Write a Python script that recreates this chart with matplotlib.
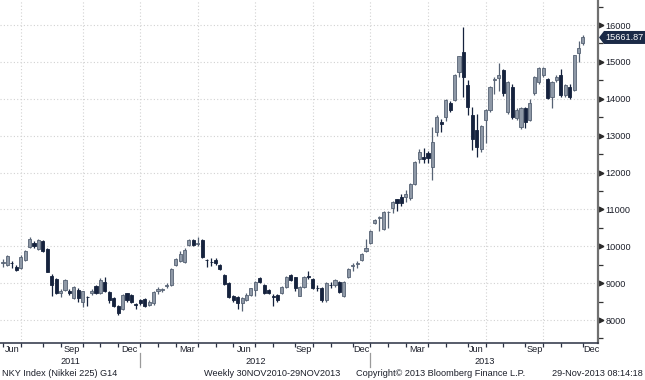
import math

import matplotlib
matplotlib.use("Agg")
import matplotlib.pyplot as plt
from matplotlib.patches import Polygon
import pandas as pd

plt.rcParams['font.family'] = ['Liberation Sans', 'DejaVu Sans']

# weekly bars, first one is the week ending Fri 27-May-2011
FIRST_WEEK = "2011-05-27"

opens = [
    # 2011
    9540, 9490, 9550, 9450, 9410, 9630, 9980, 10100, 9920, 10150, 9925, 9200, 9100, 8730, 8810, 8790,
    8600, 8820, 8490, 8630, 8740, 8910, 8730, 9030, 8750, 8600, 8380, 8290, 8720, 8680, 8430, 8540,
    # 2012
    8560, 8400, 8450, 8780, 8820, 8920, 8950, 9490, 9600, 9560, 10035, 10170, 10060, 10170, 9640, 9570,
    9630, 9500, 9220, 9010, 8650, 8630, 8450, 8540, 8680, 8810, 9140, 8950, 8820, 8640, 8680, 8740,
    8900, 9220, 9160, 8650, 8900, 9200, 9110, 8880, 8870, 8530, 8960, 8950, 9040, 8650, 9160, 9470,
    9530, 9630, 9860, 10080,
    # 2013
    10640, 10770, 10460, 10930, 11030, 11270, 11340, 11340, 11300, 11690, 12380, 12420, 12520, 12160,
    13110, 13380, 13510, 13880, 13970, 14730, 15260, 14370, 13560, 13150, 12630, 13420, 13700, 14510,
    14550, 14780, 13650, 14330, 13470, 13240, 13740, 13420, 14150, 14460, 14650, 14530, 14060, 14510,
    14640, 14100, 14330, 14240, 15230, 15520,
]
highs = [
    9650, 9760, 9610, 9480, 9760, 9900, 10240, 10150, 10200, 10170, 9950, 9250, 9130, 8850, 9120, 8830,
    8920, 8860, 8800, 8660, 8830, 8950, 9150, 9160, 8790, 8620, 8400, 8700, 8740, 8700, 8470, 8570,
    8600, 8550, 8800, 8900, 8870, 9010, 9400, 9670, 9860, 9940, 10190, 10190, 10240, 10190, 9660, 9680,
    9680, 9520, 9240, 9030, 8680, 8650, 8620, 8720, 8880, 9060, 9160, 8980, 8850, 8700, 8700, 8920,
    9200, 9240, 9180, 8920, 9200, 9320, 9130, 8950, 8890, 9040, 9040, 9100, 9060, 9060, 9410, 9550,
    9600, 9830, 10190, 10440,
    10740, 10830, 10960, 10960, 11230, 11290, 11410, 11530, 11710, 12310, 12650, 12670, 12580, 13225,
    13560, 13450, 13990, 13950, 14660, 15170, 15942, 14510, 13790, 13600, 13300, 13720, 14350, 14600,
    14960, 14800, 14480, 14400, 13750, 13790, 13780, 14000, 14620, 14850, 14850, 14560, 14480, 14650,
    14800, 14400, 14400, 15200, 15560, 15730,
]
lows = [
    9440, 9470, 9410, 9330, 9380, 9600, 9950, 9960, 9900, 9840, 9290, 8650, 8700, 8620, 8780, 8690,
    8570, 8500, 8350, 8370, 8680, 8700, 8700, 8750, 8460, 8340, 8140, 8270, 8500, 8470, 8290, 8420,
    8350, 8370, 8420, 8700, 8770, 8880, 8930, 9460, 9570, 9540, 10000, 10000, 10000, 9680, 9440, 9470,
    9500, 9360, 8940, 8600, 8500, 8290, 8240, 8520, 8650, 8650, 9000, 8700, 8700, 8370, 8500, 8700,
    8880, 9050, 8800, 8640, 8880, 9120, 8840, 8790, 8500, 8500, 8870, 8890, 8740, 8620, 9150, 9330,
    9400, 9600, 9850, 10060,
    10600, 10420, 10440, 10490, 10900, 10950, 11100, 11210, 11250, 11650, 12250, 12250, 12250, 11805,
    13000, 13100, 13400, 13650, 13950, 14600, 14050, 13560, 12610, 12430, 12560, 12790, 13650, 14130,
    14220, 14080, 13600, 13450, 13420, 13190, 13200, 13400, 14100, 14400, 14600, 13990, 13750, 14450,
    14050, 14050, 14000, 14200, 15000, 15450,
]
closes = [
    9560, 9740, 9540, 9360, 9710, 9880, 10200, 10010, 10170, 9880, 9310, 8960, 8740, 8800, 9080, 8720,
    8900, 8600, 8780, 8620, 8800, 8740, 9075, 8790, 8540, 8380, 8200, 8680, 8540, 8490, 8420, 8470,
    8390, 8500, 8770, 8840, 8830, 8950, 9380, 9650, 9780, 9900, 10170, 10035, 10080, 9710, 9630, 9560,
    9540, 9380, 8970, 8630, 8540, 8470, 8590, 8680, 8860, 9040, 9040, 8740, 8740, 8620, 8540, 8900,
    9180, 9090, 8870, 8900, 9180, 9180, 8870, 8870, 8540, 9010, 8950, 9080, 8770, 9040, 9380, 9490,
    9540, 9790, 9950, 10420,
    10710, 10800, 10940, 10940, 11210, 11160, 11170, 11420, 11680, 12290, 12560, 12380, 12400, 12840,
    13510, 13320, 13970, 13700, 14640, 15160, 14600, 13790, 12900, 12680, 13260, 13700, 14330, 14530,
    14640, 14150, 14460, 13510, 13700, 13740, 13380, 13880, 14600, 14830, 14830, 14010, 14460, 14600,
    14100, 14370, 14060, 15190, 15370, 15661.87,
]

y_major = list(range(8000, 16001, 1000))
y_minor = list(range(7500, 16501, 1000))
label_months = [6, 9, 12, 3]
grid_months = [1, 4, 7, 10]

footer_left = "NKY Index (Nikkei 225) G14"
footer_mid = "Weekly 30NOV2010-29NOV2013"
footer_copy = "Copyright\u00a9 2013 Bloomberg Finance L.P."
footer_right = "29-Nov-2013 08:14:18"

UP_FACE = "#8e98a6"
UP_EDGE = "#566274"
DOWN = "#15223d"
TEXT = "#1c1f2a"
GRID = "#d2d2d2"

W, H = 645, 380


def bar_pos(ts, d0):
    # bar index where a month boundary falls (bars are dated on Fridays)
    return math.ceil((ts - d0).days / 7) - 1


def main():
    fig = plt.figure(figsize=(W / 100, H / 100), dpi=100)
    ax = fig.add_axes([0, 37 / H, 598 / W, 343 / H])

    n = len(closes)
    xs = list(range(n))
    x0, x1 = -0.68, 134.4
    ax.set_xlim(x0, x1)
    ax.set_ylim(7377, 16678)

    # candles
    ups = [c >= o for o, c in zip(opens, closes)]
    edges = [UP_EDGE if u else DOWN for u in ups]
    faces = [UP_FACE if u else DOWN for u in ups]
    ax.vlines(xs, lows, highs, colors=edges, linewidth=0.9, zorder=3)
    bottoms = [min(o, c) for o, c in zip(opens, closes)]
    heights = [abs(c - o) for o, c in zip(opens, closes)]
    ax.bar(xs, heights, bottom=bottoms, width=0.7, color=faces, edgecolor=edges,
           linewidth=0.6, zorder=4)

    # y axis on the right
    ax.yaxis.tick_right()
    ax.set_yticks(y_major)
    ax.set_yticklabels([str(v) for v in y_major])
    ax.set_yticks(y_minor, minor=True)
    ax.tick_params(axis='y', which='major', length=0, pad=5.5, labelsize=6.6, labelcolor=TEXT)
    ax.tick_params(axis='y', which='minor', length=3.5, width=0.9, color="#333333", direction='out')
    ytr = ax.get_yaxis_transform()
    ax.plot([1.005] * len(y_major), y_major, linestyle='none', marker='>', markersize=3.4,
            color="#2b2b2b", transform=ytr, clip_on=False)
    for v in y_major:
        ax.axhline(v, color=GRID, lw=0.8, ls=(0, (1, 2)), zorder=1)

    for side in ("left", "top"):
        ax.spines[side].set_visible(False)
    ax.spines["right"].set_color("#707070")
    ax.spines["right"].set_linewidth(1.6)
    ax.spines["bottom"].set_color("#2a3042")
    ax.spines["bottom"].set_linewidth(1.1)

    # month ticks, quarter gridlines, labels
    d0 = pd.Timestamp(FIRST_WEEK)
    months = pd.date_range("2011-06-01", "2014-01-01", freq="MS")
    pos = [bar_pos(m, d0) for m in months]
    ax.set_xticks([p for p in pos if x0 <= p <= x1])
    ax.set_xticklabels([])
    ax.tick_params(axis='x', which='major', length=3, width=0.9, color="#2a3042", direction='out')

    xtr = ax.get_xaxis_transform()
    for k, m in enumerate(months[:-1]):
        if m.month in grid_months:
            ax.axvline(pos[k], color=GRID, lw=0.8, ls=(0, (1, 2)), zorder=1)
        if m.month in label_months:
            xc = (pos[k] + pos[k + 1]) / 2
            ax.text(xc, -7 / 343, m.strftime("%b"), transform=xtr, ha='center', va='center',
                    fontsize=6.6, color=TEXT)

    jan = [pos[k] for k, m in enumerate(months) if m.month == 1]
    spans = [(x0, jan[0]), (jan[0], jan[1]), (jan[1], x1)]
    for yr, (a, b) in zip(["2011", "2012", "2013"], spans):
        ax.text((a + b) / 2, -19 / 343, yr, transform=xtr, ha='center', va='center',
                fontsize=6.6, color=TEXT)
    for p in jan[:2]:
        ax.plot([p, p], [-10 / 343, -24 / 343], color="#9a9a9a", lw=0.9,
                transform=xtr, clip_on=False)

    # last price tag
    fig.canvas.draw()
    yd = ax.transData.transform((0, closes[-1]))[1]
    yc = yd / fig.bbox.height
    hh = 6.5 / H
    pts = [(599 / W, yc), (604 / W, yc + hh), (1.0, yc + hh), (1.0, yc - hh), (604 / W, yc - hh)]
    fig.add_artist(Polygon(pts, closed=True, transform=fig.transFigure,
                           facecolor="#1b2a47", edgecolor="none"))
    fig.text(624 / W, yc, f"{closes[-1]:.2f}", color="white", ha='center', va='center',
             fontsize=6.6)

    # footer
    fy = 1 - 373 / H
    fig.text(2 / W, fy, footer_left, ha='left', va='center', fontsize=6.6, color=TEXT)
    fig.text(204 / W, fy, footer_mid, ha='left', va='center', fontsize=6.6, color=TEXT)
    fig.text(356 / W, fy, footer_copy, ha='left', va='center', fontsize=6.6, color=TEXT)
    fig.text(643 / W, fy, footer_right, ha='right', va='center', fontsize=6.6, color=TEXT)

    fig.savefig("out.png", dpi=100, facecolor="white")
    plt.close(fig)


if __name__ == "__main__":
    main()
